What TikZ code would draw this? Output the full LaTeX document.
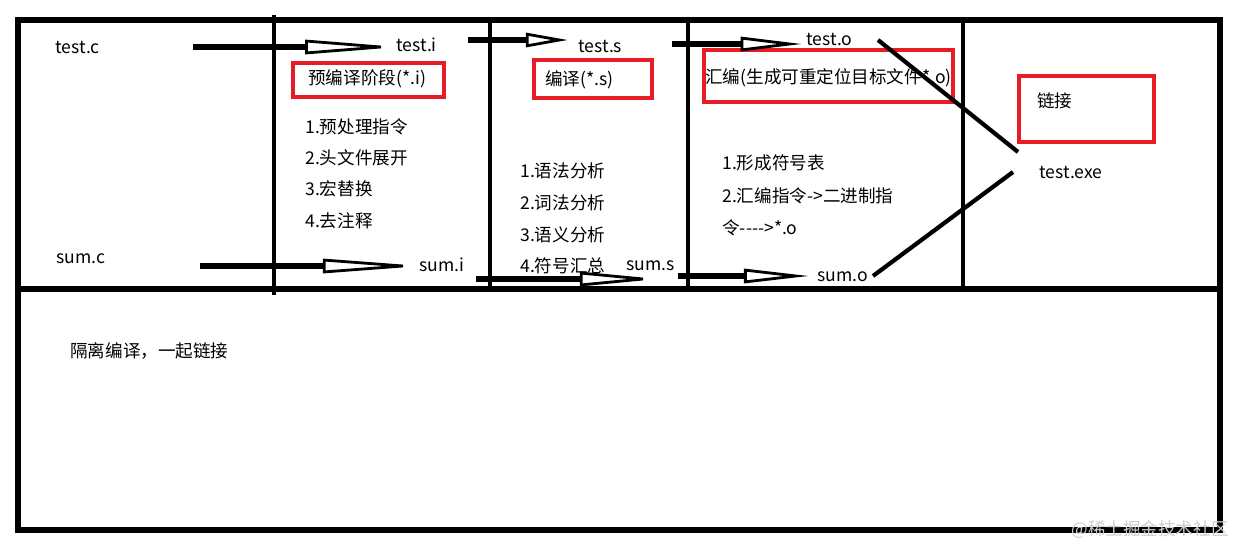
\documentclass[tikz,border=0pt]{standalone}
\usepackage{fontspec}
\setmainfont{Noto Sans CJK SC}
\usetikzlibrary{arrows.meta,positioning,calc}
\definecolor{skRed} {RGB}{232, 28, 36}
\definecolor{skMark}{RGB}{205,205,205}

\begin{document}
\begin{tikzpicture}[x=0.02cm,y=-0.02cm,
  every node/.style={font=\fontsize{10pt}{12pt}\selectfont,inner sep=0pt,anchor=west},
  wall/.style={line width=3.4pt},
  sep/.style={line width=2.8pt},
  redbox/.style={draw=skRed,line width=2.3pt,anchor=center},
  fatarr/.style={line width=3.4pt,-{Triangle[open,length=#1,width=8pt,line width=1.6pt]}},
  link/.style={line width=2.4pt}
]
\useasboundingbox (0,0) rectangle (1235,548);

% frame
\draw[wall] (18,20) rectangle (1220,530);
\draw[wall] (15,289) -- (1223,289);
\draw[sep] (274,15) -- (274,295);
\draw[sep] (490,20) -- (490,287);
\draw[sep] (688,20) -- (688,287);
\draw[sep] (963,20) -- (963,289);

% file names
\node (tc)  at (55,47)   {test.c};
\node (ti)  at (396,45)  {test.i};
\node (ts)  at (578,46)  {test.s};
\node (to)  at (806,39)  {test.o};
\node (sc)  at (56,259)  {sum.c};
\node (si)  at (419,265) {sum.i};
\node (ss)  at (626,266) {sum.s};
\node (so)  at (817,277) {sum.o};
\node (exe) at (1039,172){test.exe};

% stage boxes
\node[redbox,minimum width=3.02cm,minimum height=0.68cm] (B1) at (368.5,80) {};
\node[redbox,minimum width=2.36cm,minimum height=0.76cm] (B2) at (593,79) {};
\node[redbox,minimum width=4.98cm,minimum height=1.04cm] (B3) at (828.5,76) {};
\node[redbox,minimum width=2.70cm,minimum height=1.32cm] (B4) at (1086.5,109) {};
\node (S1) at (308,79)  {预编译阶段(*.i)};
\node (S2) at (545,80)  {编译(*.s)};
\node (S3) at (705,78)  {汇编(生成可重定位目标文件*.o)};
\node (S4) at (1037,101){链接};

% step lists
\node (P1) at (305,127) {1.预处理指令};
\node (P2) at (305,158) {2.头文件展开};
\node (P3) at (305,189) {3.宏替换};
\node (P4) at (305,221) {4.去注释};
\node (C1) at (520,171) {1.语法分析};
\node (C2) at (520,203) {2.词法分析};
\node (C3) at (520,235) {3.语义分析};
\node (C4) at (520,266) {4.符号汇总};
\node (A1) at (722,163) {1.形成符号表};
\node (A2) at (722,196) {2.汇编指令->二进制指};
\node (A3) at (722,228) {令-{}-{}-{}->*.o};

\node (note) at (70,351) {隔离编译，一起链接};
\node[text=skMark,anchor=center] (wm) at (1150,530) {@稀土掘金技术社区};

% arrows
\coordinate (a1) at (193,47);
\coordinate (a2) at (468,40);
\coordinate (a3) at (672,44);
\coordinate (a4) at (200,266);
\coordinate (a5) at (476,279);
\coordinate (a6) at (678,276);
\draw[fatarr=54pt] (a1) -- ($(a1 -| ti.west)+(4,0)$);
\draw[fatarr=24pt] (a2) -- ($(a2 -| ts.west)+(-10,0)$);
\draw[fatarr=35pt] (a3) -- ($(a3 -| to.west)+(-4,0)$);
\draw[fatarr=57pt] (a4) -- ($(a4 -| si.west)+(4,0)$);
\draw[fatarr=45pt] (a5) -- ($(a5 -| ss.east)+(-16,0)$);
\draw[fatarr=37pt] (a6) -- ($(a6 -| so.west)+(-8,0)$);

% link lines
\coordinate (l1) at (878,40);
\coordinate (l2) at (1018,152);
\coordinate (l3) at (873,276);
\coordinate (l4) at (1013,172);
\draw[link] (l1) -- (l2);
\draw[link] (l3) -- (l4);
\end{tikzpicture}
\end{document}
